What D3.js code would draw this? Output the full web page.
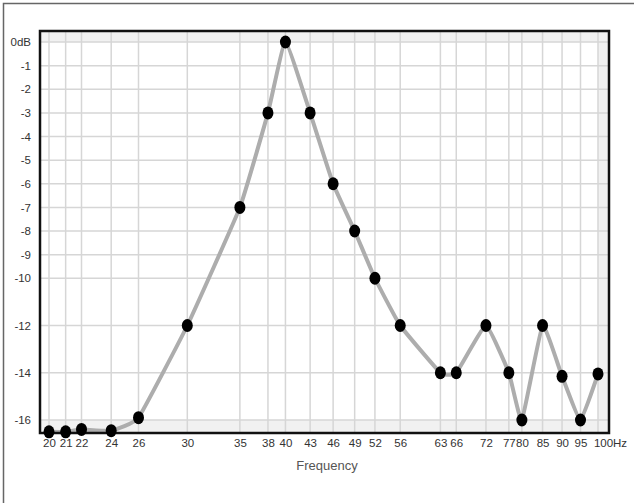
<!DOCTYPE html>
<html>
<head>
<meta charset="utf-8">
<script src="https://cdn.jsdelivr.net/npm/d3@7"></script>
<style>
  body { margin: 0; background: #fff; }
  text { font-family: "Liberation Sans", Arial, sans-serif; }
</style>
</head>
<body>
<script>
// response data
const freqs = [20, 21, 22, 24, 26, 30, 35, 38, 40, 43, 46, 49, 52, 56, 63, 66, 72, 77, 80, 85, 90, 95, 100];
const levels = [-16.5, -16.5, -16.4, -16.45, -15.9, -12, -7, -3, 0, -3, -6, -8, -10, -12, -14, -14, -12, -14, -16, -12, -14.15, -16, -14.05];
const yTicks = [0, -1, -2, -3, -4, -5, -6, -7, -8, -9, -10, -12, -14, -16];

const W = 634, H = 503;
const frame = {x0: 40, x1: 609, y0: 31, y1: 433};

const svg = d3.select("body").append("svg")
    .attr("width", W)
    .attr("height", H);

const x = d3.scaleLog().domain([20, 100]).range([49, 598]);
const y = d3.scaleLinear().domain([0, -16]).range([42, 420]);

// outer border (only top/left show in the crop)
svg.append("rect")
    .attr("x", 3.5).attr("y", 3.5)
    .attr("width", 800).attr("height", 800)
    .attr("fill", "none")
    .attr("stroke", "#666")
    .attr("stroke-width", 1.5);

// plot background, light band outside the data range
svg.append("rect")
    .attr("x", frame.x0).attr("y", frame.y0)
    .attr("width", frame.x1 - frame.x0).attr("height", frame.y1 - frame.y0)
    .attr("fill", "#f1f1f1");
svg.append("rect")
    .attr("x", frame.x0).attr("y", y(0))
    .attr("width", x(100) - frame.x0).attr("height", y(-16) - y(0))
    .attr("fill", "#fff");

// grid
const grid = svg.append("g").attr("stroke", "#d6d6d6").attr("stroke-width", 1.5);
grid.selectAll("line.v")
    .data(freqs)
    .enter().append("line")
    .attr("class", "v")
    .attr("x1", d => x(d)).attr("x2", d => x(d))
    .attr("y1", frame.y0).attr("y2", frame.y1);
grid.selectAll("line.h")
    .data(yTicks)
    .enter().append("line")
    .attr("class", "h")
    .attr("x1", frame.x0).attr("x2", frame.x1)
    .attr("y1", d => y(d)).attr("y2", d => y(d));

// axes (labels only)
const xAxis = svg.append("g")
    .attr("transform", `translate(0, ${frame.y1 + 1})`)
    .call(d3.axisBottom(x)
        .tickValues(freqs)
        .tickSize(0)
        .tickPadding(5)
        .tickFormat(d => d === 100 ? "100Hz" : d));
xAxis.select(".domain").remove();
xAxis.selectAll("text")
    .attr("fill", "#333")
    .style("font-size", "11.5px");
xAxis.selectAll(".tick").filter(d => d === 100)
    .select("text").attr("dx", "12");

const yAxis = svg.append("g")
    .attr("transform", `translate(${frame.x0 - 2}, 0)`)
    .call(d3.axisLeft(y)
        .tickValues(yTicks)
        .tickSize(0)
        .tickPadding(7)
        .tickFormat(d => d === 0 ? "0dB" : d));
yAxis.select(".domain").remove();
yAxis.selectAll("text")
    .attr("fill", "#333")
    .style("font-size", "11.5px");

svg.append("text")
    .attr("x", 327).attr("y", 470)
    .attr("text-anchor", "middle")
    .attr("fill", "#555")
    .style("font-size", "13px")
    .text("Frequency");

// response curve
const line = d3.line()
    .x((d, i) => x(freqs[i]))
    .y(d => y(d))
    .curve(d3.curveCardinal.tension(0.65));

svg.append("path")
    .datum(levels)
    .attr("d", line)
    .attr("fill", "none")
    .attr("stroke", "#adadad")
    .attr("stroke-width", 4)
    .attr("stroke-linejoin", "round");

// frame on top of everything but the markers
svg.append("rect")
    .attr("x", frame.x0).attr("y", frame.y0)
    .attr("width", frame.x1 - frame.x0).attr("height", frame.y1 - frame.y0)
    .attr("fill", "none")
    .attr("stroke", "#111")
    .attr("stroke-width", 2.5);

svg.selectAll("ellipse.pt")
    .data(levels)
    .enter().append("ellipse")
    .attr("class", "pt")
    .attr("cx", (d, i) => x(freqs[i]))
    .attr("cy", d => y(d))
    .attr("rx", 5.5)
    .attr("ry", 6.5)
    .attr("fill", "#000");
</script>
</body>
</html>
